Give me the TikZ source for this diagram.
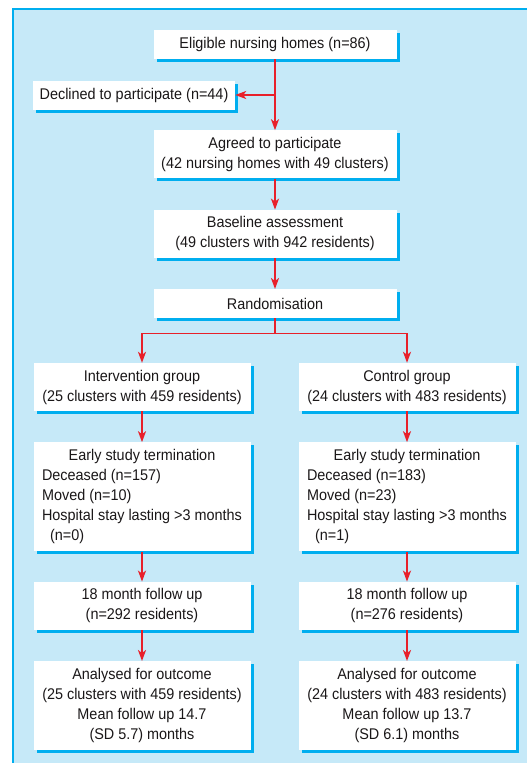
\documentclass[tikz,border=0pt]{standalone}
\usepackage{fontspec}
\setmainfont{Liberation Sans}[FakeStretch=0.93]
\usepackage{tikz}
\usetikzlibrary{arrows.meta,positioning,shadows}
\definecolor{panelblue}{HTML}{C6E9F8}
\definecolor{edgeblue}{HTML}{00AEEF}
\definecolor{arrowred}{HTML}{E8202A}
\definecolor{inkgray}{HTML}{1A1718}

\begin{document}
\begin{tikzpicture}[
      x=1pt, y=1pt,
      font=\fontsize{15.5}{20}\selectfont, text=inkgray,
      box/.style={fill=white, minimum height=29pt, inner xsep=4pt, inner ysep=2pt,
                  align=center,
                  drop shadow={shadow xshift=3pt, shadow yshift=-3pt, fill=edgeblue, opacity=1}},
      wide/.style={box, minimum width=243pt},
      side/.style={box, minimum width=217pt},
      arrow/.style={-{Stealth[length=11pt, width=8pt, inset=3pt]}, arrowred, line width=1.8pt}
    ]
    \useasboundingbox (0,0) rectangle (527,-763);
    % panel
    \fill[panelblue] (13,-9) rectangle (527,-763);
    \draw[edgeblue, line width=1.3pt] (13,-763) -- (13,-9) -- (527,-9);
    % enrolment
    \node[wide] (elig) at (275,-44.5) {Eligible nursing homes (n=86)};
    \node[box, minimum width=202pt] (decl) at (134,-95) {Declined to participate (n=44)};
    \node[wide, minimum height=48pt, below=71pt of elig] (agree) {Agreed to participate\\(42 nursing homes with 49 clusters)};
    \node[wide, minimum height=48pt, below=31pt of agree] (base) {Baseline assessment\\(49 clusters with 942 residents)};
    \node[wide, below=31pt of base] (rand) {Randomisation};
    \coordinate[below=15pt of rand] (fork);
    \coordinate (split) at (elig.south |- decl.east);
    \draw[arrow] (elig) -- (agree);
    \draw[arrow] (split) -- (decl);
    \draw[arrow] (agree) -- (base);
    \draw[arrow] (base) -- (rand);
    % intervention arm
    \node[side, minimum height=48pt] (interv) at (142,-387) {Intervention group\\(25 clusters with 459 residents)};
    \node[side, minimum height=109pt, below=31pt of interv] (iterm) {\begin{tabular}{@{}l@{}}
        \multicolumn{1}{@{}c@{}}{Early study termination}\\
        Deceased (n=157)\\
        Moved (n=10)\\
        Hospital stay lasting >3 months\\
        \hspace{8pt}(n=0)
      \end{tabular}};
    \node[side, minimum height=48pt, below=30pt of iterm] (ifollow) {18 month follow up\\(n=292 residents)};
    \node[side, minimum height=89pt, below=31pt of ifollow] (ioutc) {Analysed for outcome\\(25 clusters with 459 residents)\\Mean follow up 14.7\\(SD 5.7) months};
    % control arm
    \node[side, minimum height=48pt] (ctrl) at (407,-387) {Control group\\(24 clusters with 483 residents)};
    \node[side, minimum height=109pt, below=31pt of ctrl] (cterm) {\begin{tabular}{@{}l@{}}
        \multicolumn{1}{@{}c@{}}{Early study termination}\\
        Deceased (n=183)\\
        Moved (n=23)\\
        Hospital stay lasting >3 months\\
        \hspace{8pt}(n=1)
      \end{tabular}};
    \node[side, minimum height=48pt, below=30pt of cterm] (cfollow) {18 month follow up\\(n=276 residents)};
    \node[side, minimum height=89pt, below=31pt of cfollow] (coutc) {Analysed for outcome\\(24 clusters with 483 residents)\\Mean follow up 13.7\\(SD 6.1) months};
    % arms
    \draw[arrow] (rand) -- (fork) -| (interv);
    \draw[arrow] (fork) -| (ctrl);
    \foreach \a/\b in {interv/iterm, iterm/ifollow, ifollow/ioutc, ctrl/cterm, cterm/cfollow, cfollow/coutc}
      \draw[arrow] (\a) -- (\b);
  \end{tikzpicture}
\end{document}
